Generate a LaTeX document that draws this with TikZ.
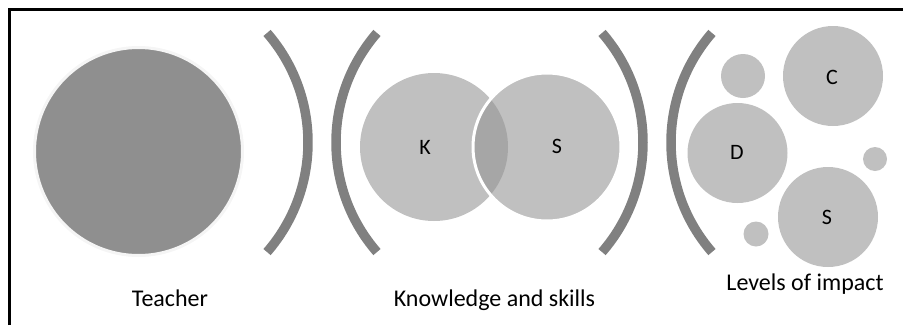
\documentclass[tikz,border=0pt]{standalone}
\usepackage{fontspec}
\setmainfont{Carlito}
\begin{document}
\begin{tikzpicture}[x=1pt,y=-1pt,
  disc/.style={circle,inner sep=0pt,minimum size=#1,fill=discgray,draw=none},
  bracket/.style={draw=arcgray,line width=9.5pt},
  caption/.style={anchor=base,inner sep=0pt,font=\fontsize{24}{28}\selectfont},
  letter/.style={inner sep=0pt,font=\fontsize{22}{26}\selectfont}]
\definecolor{discgray}{HTML}{C0C0C0}
\definecolor{lensgray}{HTML}{A6A6A6}
\definecolor{teachgray}{HTML}{8F8F8F}
\definecolor{arcgray}{HTML}{808080}
\useasboundingbox (0,0) rectangle (903,325);
% frame
\draw[line width=3pt] (9,325) -- (9,9) -- (903,9);

% teacher
\node[circle,inner sep=0pt,minimum size=208pt,fill=teachgray,draw=black!4,line width=3pt] (teacher) at (138.5,151.5) {};
\node[caption] (teachertxt) at (170,306) {Teacher};

% brackets
\draw[bracket] ([shift={(-41:167)}]141,142.5) arc[start angle=-41,end angle=41,radius=167];
\draw[bracket] ([shift={(139:167)}]503,142.5) arc[start angle=139,end angle=221,radius=167];
\draw[bracket] ([shift={(-41:167)}]476,142.5) arc[start angle=-41,end angle=41,radius=167];
\draw[bracket] ([shift={(139:167)}]838,142.5) arc[start angle=139,end angle=221,radius=167];

% knowledge and skills
\node[disc=148pt] (K) at (434,147) {};
\node[disc=148pt] (S) at (547,147) {};
\begin{scope}
  \clip (434,147) circle[radius=74];
  \fill[lensgray] (547,147) circle[radius=74];
\end{scope}
\draw[white,line width=3pt] (547,147) circle[radius=74];
\node[letter] (Ktxt) at (425,147) {K};
\node[letter] (Stxt) at (557,146) {S};
\node[caption] (kstxt) at (494.5,306) {Knowledge and skills};

% levels of impact
\node[disc=44pt] (s1) at (743,76) {};
\node[disc=100pt] (C) at (833,76) {};
\node[disc=100pt] (D) at (737.5,153) {};
\node[disc=24pt] (s2) at (875,159) {};
\node[disc=100pt] (S2) at (828,217) {};
\node[disc=25pt] (s3) at (756,234) {};
\node[letter] (Ctxt) at (832,77) {C};
\node[letter] (Dtxt) at (737,152) {D};
\node[letter] (S2txt) at (827,217) {S};
\node[caption] (lvtxt) at (805,290) {Levels of impact};
\end{tikzpicture}
\end{document}
